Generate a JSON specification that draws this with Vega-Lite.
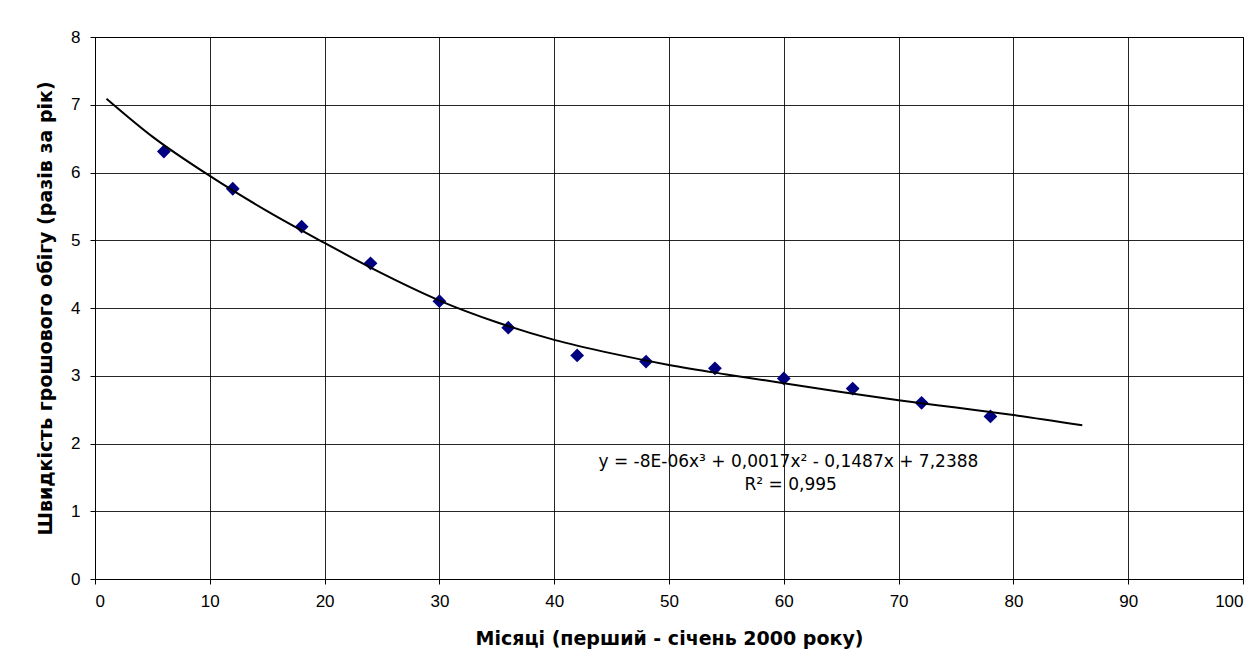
{
  "$schema": "https://vega.github.io/schema/vega-lite/v6.json",
  "width": 1148,
  "height": 542,
  "autosize": {"type": "none"},
  "padding": {"left": 95, "top": 37, "right": 16, "bottom": 83},
  "background": "white",
  "config": {
    "view": {"stroke": "black", "strokeWidth": 1},
    "font": "Liberation Sans",
    "axis": {
      "domainColor": "black", "tickColor": "black", "gridColor": "black", "gridOpacity": 0.85,
      "labelColor": "black", "titleColor": "black", "tickSize": 5
    }
  },
  "datasets": {
    "points": [
      {"month": 6, "v": 6.31}, {"month": 12, "v": 5.76}, {"month": 18, "v": 5.2},
      {"month": 24, "v": 4.66}, {"month": 30, "v": 4.1}, {"month": 36, "v": 3.71},
      {"month": 42, "v": 3.3}, {"month": 48, "v": 3.21}, {"month": 54, "v": 3.11},
      {"month": 60, "v": 2.96}, {"month": 66, "v": 2.81}, {"month": 72, "v": 2.6},
      {"month": 78, "v": 2.4}
    ],
    "trend": [
      {"month": 1, "v": 7.09}, {"month": 5, "v": 6.53}, {"month": 10, "v": 5.95},
      {"month": 15, "v": 5.43}, {"month": 20, "v": 4.96}, {"month": 25, "v": 4.51},
      {"month": 30, "v": 4.11}, {"month": 35, "v": 3.79}, {"month": 40, "v": 3.53},
      {"month": 45, "v": 3.33}, {"month": 50, "v": 3.16}, {"month": 55, "v": 3.02},
      {"month": 60, "v": 2.89}, {"month": 65, "v": 2.76}, {"month": 70, "v": 2.64},
      {"month": 75, "v": 2.53}, {"month": 80, "v": 2.42}, {"month": 86, "v": 2.27}
    ],
    "labels": [
      {"month": 60.4, "v": 1.72, "t": "y = -8E-06x³ + 0,0017x² - 0,1487x + 7,2388"},
      {"month": 60.6, "v": 1.39, "t": "R² = 0,995"}
    ]
  },
  "layer": [
    {
      "data": {"name": "points"},
      "mark": {"type": "point", "shape": "diamond", "filled": true, "color": "#000080", "size": 190, "opacity": 1},
      "encoding": {
        "x": {
          "field": "month", "type": "quantitative",
          "scale": {"domain": [0, 100], "nice": false},
          "axis": {"values": [0,10,20,30,40,50,60,70,80,90,100], "labelPadding": 9, "labelAngle": 0,
                   "labelFont": "Liberation Sans", "labelFontSize": 17, "format": "d",
                   "title": "Місяці (перший - січень 2000 року)", "titleFont": "DejaVu Sans", "titleFontSize": 19, "titleFontWeight": "bold",
                   "titlePadding": 20}
        },
        "y": {
          "field": "v", "type": "quantitative",
          "scale": {"domain": [0, 8], "nice": false},
          "axis": {"values": [0,1,2,3,4,5,6,7,8], "labelPadding": 10, "format": "d",
                   "labelFont": "Liberation Sans", "labelFontSize": 17,
                   "title": "Швидкість грошового обігу (разів за рік)", "titleFont": "DejaVu Sans", "titleFontSize": 19, "titleFontWeight": "bold",
                   "titlePadding": 15}
        }
      }
    },
    {
      "data": {"name": "trend"},
      "mark": {"type": "line", "color": "black", "strokeWidth": 2, "interpolate": "monotone"},
      "encoding": {
        "x": {"field": "month", "type": "quantitative"},
        "y": {"field": "v", "type": "quantitative"}
      }
    },
    {
      "data": {"name": "labels"},
      "mark": {"type": "text", "fontSize": 17, "font": "DejaVu Sans", "color": "black", "align": "center", "baseline": "middle"},
      "encoding": {
        "x": {"field": "month", "type": "quantitative"},
        "y": {"field": "v", "type": "quantitative"},
        "text": {"field": "t"}
      }
    }
  ]
}
